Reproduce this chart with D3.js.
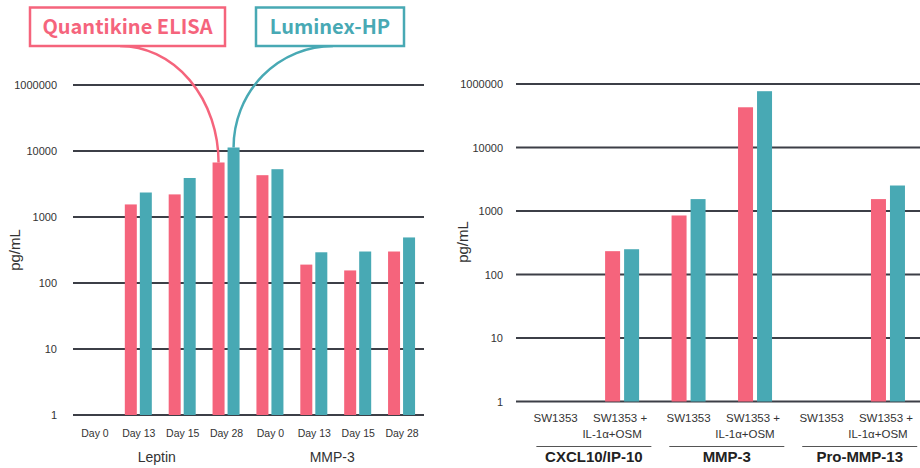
<!DOCTYPE html>
<html>
<head>
<meta charset="utf-8">
<script src="https://cdn.jsdelivr.net/npm/d3@7/dist/d3.min.js"></script>
<style>
  html, body { margin: 0; padding: 0; background: #fff; }
  svg { display: block; }
</style>
</head>
<body>
<svg id="chart" width="920" height="468"></svg>
<script>
// ---------- DATA ----------
const tickValues = [1, 10, 100, 1000, 10000, 100000];
const tickLabels = ["1", "10", "100", "1000", "10000", "1000000"];

const leftCategories = ["Day 0", "Day 13", "Day 15", "Day 28", "Day 0", "Day 13", "Day 15", "Day 28"];
const leftGroups = ["Leptin", "MMP-3"];
const leftElisa   = [null, 1550, 2200, 6700, 4300, 190, 155, 300];
const leftLuminex = [null, 2350, 3900, 11300, 5300, 292, 300, 490];

const rightCategories = ["SW1353", "SW1353 +\nIL-1α+OSM", "SW1353", "SW1353 +\nIL-1α+OSM", "SW1353", "SW1353 +\nIL-1α+OSM"];
const rightGroups = ["CXCL10/IP-10", "MMP-3", "Pro-MMP-13"];
const rightElisa   = [null, 233, 850, 43000, null, 1540];
const rightLuminex = [null, 250, 1540, 77000, null, 2520];

const seriesNames = ["Quantikine ELISA", "Luminex-HP"];

// ---------- STYLE ----------
const PINK = "#f5647c";
const TEAL = "#48a9b4";
const GRID = "#3c3f47";
const TXT = "#333333";
const FONT = "'Liberation Sans', Arial, sans-serif";

const svg = d3.select("#chart");
svg.append("rect").attr("width", 920).attr("height", 468).attr("fill", "#fff");

function drawPanel(opt) {
  const g = svg.append("g");
  const x = d3.scaleBand().domain(d3.range(opt.categories.length)).range(opt.xRange).padding(0);
  const y = d3.scaleLog().domain([1, 100000]).range(opt.yRange);

  // gridlines
  g.selectAll("line.grid").data(tickValues).join("line")
    .attr("x1", opt.gridX[0]).attr("x2", opt.gridX[1])
    .attr("y1", d => y(d)).attr("y2", d => y(d))
    .attr("stroke", GRID).attr("stroke-width", 2);

  // y tick labels via axis
  const ax = d3.axisLeft(y).tickValues(tickValues)
    .tickFormat((d, i) => tickLabels[i]).tickSize(0).tickPadding(0);
  const axG = g.append("g").attr("transform", `translate(${opt.tickX},0)`).call(ax);
  axG.select(".domain").remove();
  axG.selectAll("text").attr("font-family", FONT).attr("font-size", 11).attr("fill", TXT);

  // y title
  g.append("text")
    .attr("transform", `translate(${opt.titleX},${opt.titleY}) rotate(-90)`)
    .attr("text-anchor", "middle").attr("dy", "0.35em")
    .attr("font-family", FONT).attr("font-size", 15).attr("fill", TXT)
    .text("pg/mL");

  // bars
  const series = [
    { vals: opt.elisa, color: PINK, off: opt.barOff[0] },
    { vals: opt.luminex, color: TEAL, off: opt.barOff[1] }
  ];
  series.forEach(s => {
    g.selectAll(null).data(s.vals.map((v, i) => ({ v, i })).filter(d => d.v != null)).join("rect")
      .attr("x", d => x(d.i) + x.bandwidth() / 2 + s.off)
      .attr("width", opt.barW)
      .attr("y", d => y(d.v))
      .attr("height", d => y(1) - y(d.v))
      .attr("fill", s.color);
  });

  return { g, x, y };
}

// ---------- LEFT PANEL ----------
const L = drawPanel({
  categories: leftCategories,
  xRange: [73, 424], yRange: [415, 85], gridX: [73, 424],
  tickX: 57, titleX: 15, titleY: 250,
  elisa: leftElisa, luminex: leftLuminex,
  barW: 12, barOff: [-14, 1]
});
L.g.selectAll("text.cat").data(leftCategories).join("text")
  .attr("x", (d, i) => L.x(i) + L.x.bandwidth() / 2)
  .attr("y", 437).attr("text-anchor", "middle")
  .attr("font-family", FONT).attr("font-size", 10.5).attr("fill", TXT)
  .text(d => d);
L.g.selectAll("text.grp").data(leftGroups).join("text")
  .attr("x", (d, i) => (L.x(i * 4) + L.x(i * 4 + 3) + L.x.bandwidth()) / 2 - 4)
  .attr("y", 462).attr("text-anchor", "middle")
  .attr("font-family", FONT).attr("font-size", 14).attr("fill", TXT)
  .text(d => d);

// ---------- RIGHT PANEL ----------
const R = drawPanel({
  categories: rightCategories,
  xRange: [522.4, 921.2], yRange: [401.5, 84], gridX: [516, 925],
  tickX: 503, titleX: 463, titleY: 242,
  elisa: rightElisa, luminex: rightLuminex,
  barW: 15, barOff: [-17, 2]
});
rightCategories.forEach((c, i) => {
  const lines = c.split("\n");
  const cx = R.x(i) + R.x.bandwidth() / 2;
  lines.forEach((ln, j) => {
    R.g.append("text")
      .attr("x", cx + (lines.length > 1 ? (j === 0 ? -2 : -10) : 0))
      .attr("y", 422 + j * 16).attr("text-anchor", "middle")
      .attr("font-family", FONT).attr("font-size", 11.5).attr("fill", TXT)
      .text(ln);
  });
});
rightGroups.forEach((grp, i) => {
  const gc = (R.x(i * 2) + R.x(i * 2 + 1) + R.x.bandwidth()) / 2 + 5;
  R.g.append("line")
    .attr("x1", gc - 57.5).attr("x2", gc + 57.5)
    .attr("y1", 446.5).attr("y2", 446.5)
    .attr("stroke", "#555").attr("stroke-width", 1);
  R.g.append("text")
    .attr("x", gc).attr("y", 462).attr("text-anchor", "middle")
    .attr("font-family", FONT).attr("font-size", 15).attr("font-weight", "bold").attr("fill", "#222")
    .text(grp);
});

// ---------- CALLOUTS ----------
const CFONT = "'Noto Sans CJK JP', 'Noto Sans', sans-serif";
const boxes = [
  { name: seriesNames[0], color: PINK, x0: 30, x1: 225, start: 120, barIdx: 3, off: -14 + 6, vals: leftElisa, sweep: 1 },
  { name: seriesNames[1], color: TEAL, x0: 256, x1: 404, start: 333, barIdx: 3, off: 1 + 6, vals: leftLuminex, sweep: 0 }
];
boxes.forEach(b => {
  const ex = L.x(b.barIdx) + L.x.bandwidth() / 2 + b.off;
  const ey = L.y(b.vals[b.barIdx]);
  const sy = 46;
  svg.append("path")
    .attr("d", `M${b.start},${sy} A${Math.abs(ex - b.start)},${ey - sy} 0 0 ${b.sweep} ${ex},${ey}`)
    .attr("fill", "none").attr("stroke", b.color).attr("stroke-width", 2.5);
  svg.append("rect")
    .attr("x", b.x0).attr("y", 7.5).attr("width", b.x1 - b.x0).attr("height", 38.5)
    .attr("fill", "#fff").attr("stroke", b.color).attr("stroke-width", 2.5);
  svg.append("text")
    .attr("x", (b.x0 + b.x1) / 2).attr("y", 27).attr("dy", "0.35em")
    .attr("text-anchor", "middle")
    .attr("font-family", CFONT).attr("font-weight", 700).attr("font-size", 20)
    .attr("fill", b.color).text(b.name);
});
</script>
</body>
</html>
